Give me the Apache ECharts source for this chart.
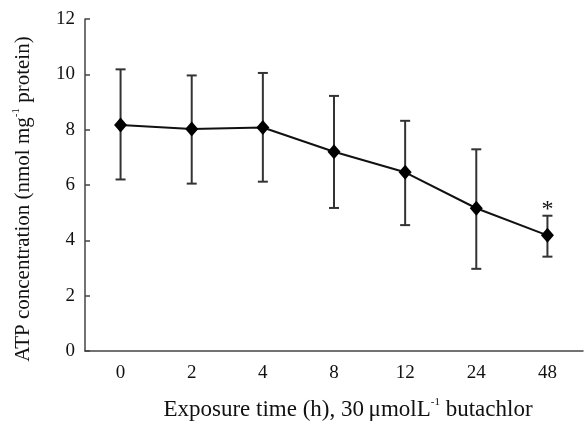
<!DOCTYPE html>
<html>
<head>
<meta charset="utf-8">
<script src="https://cdn.jsdelivr.net/npm/echarts@6/dist/echarts.min.js"></script>
<style>
  html, body { margin: 0; padding: 0; background: #fff; }
  #chart { width: 586px; height: 421px; }
</style>
</head>
<body>
<div id="chart"></div>
<script>
// exposure time (h)
var hours = ['0', '2', '4', '8', '12', '24', '48'];
// mean ATP and error bar ends
var atpMean = [8.17, 8.02, 8.08, 7.20, 6.46, 5.16, 4.18];
var atpUpper = [10.18, 9.96, 10.05, 9.22, 8.32, 7.29, 4.89];
var atpLower = [6.20, 6.05, 6.12, 5.17, 4.55, 2.97, 3.41];
var signif = ['', '', '', '', '', '', '*'];
var yTicks = [0, 2, 4, 6, 8, 10, 12];

var font = '"Liberation Serif", "Times New Roman", serif';
var myChart = echarts.init(document.getElementById('chart'));

var errData = hours.map(function (h, i) {
  return [i, atpLower[i], atpUpper[i], signif[i]];
});

var option = {
  animation: false,
  grid: { left: 85, right: 3, top: 19, bottom: 70, containLabel: false, outerBoundsMode: 'none' },
  xAxis: {
    type: 'category',
    data: hours,
    boundaryGap: true,
    name: '{t|Exposure time (h), 30\u2009μmolL}{sup|-1}{t| butachlor}',
    nameLocation: 'middle',
    nameGap: 46,
    nameTextStyle: {
      padding: [0, 0, 0, 28],
      rich: {
        t: { fontFamily: font, fontSize: 23, color: '#111', lineHeight: 26 },
        sup: { fontFamily: font, fontSize: 11, color: '#111', verticalAlign: 'top', lineHeight: 26 }
      }
    },
    axisLine: { lineStyle: { color: '#444', width: 1.5 } },
    axisTick: { inside: true, length: 4, alignWithLabel: false, lineStyle: { color: '#444', width: 1.5 } },
    axisLabel: { fontFamily: font, fontSize: 19, color: '#111', margin: 13 }
  },
  yAxis: {
    type: 'value',
    min: yTicks[0],
    max: yTicks[yTicks.length - 1],
    interval: 2,
    name: '{t|ATP concentration (nmol mg}{sup|-1}{t| protein)}',
    nameLocation: 'middle',
    nameGap: 50,
    nameTextStyle: {
      padding: [0, 0, 0, -28],
      rich: {
        t: { fontFamily: font, fontSize: 21, color: '#111', lineHeight: 24 },
        sup: { fontFamily: font, fontSize: 11, color: '#111', verticalAlign: 'top', lineHeight: 24 }
      }
    },
    splitLine: { show: false },
    axisLine: { show: true, lineStyle: { color: '#444', width: 1.5 } },
    axisTick: { show: true, inside: true, length: 5, lineStyle: { color: '#444', width: 1.5 } },
    axisLabel: { fontFamily: font, fontSize: 19, color: '#111', margin: 10 }
  },
  series: [{
    name: 'error',
    type: 'custom',
    z: 2,
    renderItem: function (params, api) {
      var x = api.value(0);
      var lo = api.coord([x, api.value(1)]);
      var hi = api.coord([x, api.value(2)]);
      var w = 5;
      var st = { stroke: '#333', lineWidth: 2 };
      var children = [
        { type: 'line', shape: { x1: lo[0], y1: lo[1], x2: hi[0], y2: hi[1] }, style: st },
        { type: 'line', shape: { x1: lo[0] - w, y1: lo[1], x2: lo[0] + w, y2: lo[1] }, style: st },
        { type: 'line', shape: { x1: hi[0] - w, y1: hi[1], x2: hi[0] + w, y2: hi[1] }, style: st }
      ];
      var mark = api.value(3);
      if (mark) {
        children.push({
          type: 'text',
          style: {
            text: mark, x: hi[0], y: hi[1] + 6, align: 'center', verticalAlign: 'bottom',
            fontFamily: font, fontSize: 24, fill: '#111'
          }
        });
      }
      return { type: 'group', children: children };
    },
    encode: { x: 0, y: [1, 2] },
    dimensions: ['x', 'lo', 'hi', { name: 'mark', type: 'ordinal' }],
    data: errData
  }, {
    name: 'ATP',
    type: 'line',
    z: 3,
    data: atpMean,
    symbol: 'diamond',
    symbolSize: [13, 15],
    itemStyle: { color: '#000' },
    lineStyle: { color: '#111', width: 2 }
  }]
};
myChart.setOption(option);
</script>
</body>
</html>
